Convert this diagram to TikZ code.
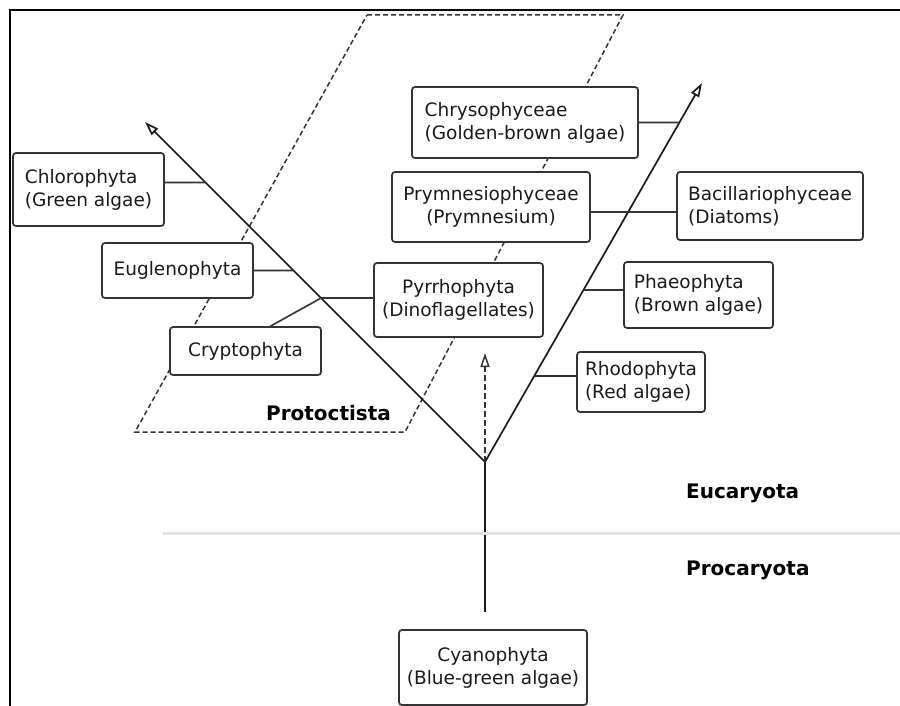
\documentclass[tikz,border=0pt]{standalone}
\usepackage{fontspec}
\setmainfont{DejaVu Sans}
\usetikzlibrary{arrows.meta,calc}
\definecolor{boxc}{HTML}{333333}
\definecolor{linec}{HTML}{1A1A1A}
\definecolor{txt}{HTML}{1A1A1A}
\definecolor{sepc}{HTML}{E2E2E2}
\newcommand{\boxfont}{\fontsize{18.5}{23}\selectfont}
\newcommand{\labfont}{\bfseries\fontsize{20}{24}\selectfont}
\begin{document}
\begin{tikzpicture}[x=1pt,y=-1pt,
  box/.style={draw=boxc, line width=1.7pt, rounded corners=3pt, fill=white, inner sep=0pt, font=\boxfont, text=txt},
  conn/.style={draw=boxc, line width=1.6pt},
  vline/.style={draw=linec, line width=1.7pt},
  tipo/.style={-{Triangle[open,length=14pt,width=9pt]}},
  dline/.style={draw=boxc, line width=1.5pt, dash pattern=on 5pt off 3pt},
  lab/.style={font=\labfont, text=black, inner sep=0pt}
]
\useasboundingbox (0,0) rectangle (900,706);
% frame
\coordinate (f1) at (10,706); \coordinate (f2) at (10,10); \coordinate (f3) at (900,10);
\draw[line width=2.8pt] (f1) -- (f2) -- (f3);
% dashed parallelogram
\coordinate (p1) at (367,15); \coordinate (p2) at (623,15);
\coordinate (p3) at (405,432); \coordinate (p4) at (135,432);
\draw[dline] (p1) -- (p2) -- (p3) -- (p4) -- cycle;
% tree skeleton
\coordinate (v) at (485,462);
\coordinate (lt) at (145,122);
\coordinate (rt) at (702,83);
\coordinate (vb) at (485,612);
\coordinate (dt) at (485,353);
\draw[vline,tipo] (v) -- (lt);
\draw[vline,tipo] (v) -- (rt);
\draw[vline] (v) -- (vb);
\draw[draw=boxc, line width=1.5pt, dash pattern=on 6pt off 3pt, tipo] (v) -- (dt);
% separator
\coordinate (s1) at (163,533); \coordinate (s2) at (900,533);
\draw[sepc, line width=3pt] (s1) -- (s2);
% boxes
\node[box, minimum width=151pt, minimum height=73pt, align=left] (chl) at (88.5,189.5) {Chlorophyta\\(Green algae)};
\node[box, minimum width=151pt, minimum height=55pt] (eug) at (177.5,270.5) {Euglenophyta};
\node[box, minimum width=151pt, minimum height=48pt] (cry) at (245.5,351) {Cryptophyta};
\node[box, minimum width=169pt, minimum height=74pt, align=center] (pyr) at (458.5,300) {Pyrrhophyta\\(Dinoflagellates)};
\node[box, minimum width=198pt, minimum height=70pt, align=center] (pry) at (491,207) {Prymnesiophyceae\\(Prymnesium)};
\node[box, minimum width=226pt, minimum height=71pt, align=left] (chr) at (525,122.5) {Chrysophyceae\\(Golden-brown algae)};
\node[box, minimum width=186pt, minimum height=68pt, align=left] (bac) at (770,206) {Bacillariophyceae\\(Diatoms)};
\node[box, minimum width=149pt, minimum height=66pt, align=left] (pha) at (698.5,295) {Phaeophyta\\(Brown algae)};
\node[box, minimum width=128pt, minimum height=60pt, align=left] (rho) at (641,382) {Rhodophyta\\(Red algae)};
\node[box, minimum width=188pt, minimum height=75pt, align=center] (cya) at (493,667.5) {Cyanophyta\\(Blue-green algae)};
% labels
\node[lab] (prot) at (328.5,413) {Protoctista};
\node[lab, anchor=west] (euc) at (686,493) {Eucaryota};
\node[lab, anchor=west] (proc) at (686,570) {Procaryota};
% connectors left
\coordinate (chlA) at ([yshift=7pt]chl.east); \coordinate (chlB) at ([yshift=7pt]chl.west);
\draw[conn] (chlA) -- (intersection of v--lt and chlA--chlB);
\draw[conn] (eug.east) -- (intersection of v--lt and eug.east--eug.west);
\coordinate (pyA) at ([yshift=2pt]pyr.west); \coordinate (pyB) at ([yshift=2pt]pyr.east);
\draw[conn] (pyA) -- (intersection of v--lt and pyA--pyB) -- ([xshift=25pt]cry.north);
% connectors right
\draw[conn] (chr.east) -- (intersection of v--rt and chr.east--chr.west);
\coordinate (prA) at ([yshift=-5pt]pry.east); \coordinate (prB) at ([yshift=-5pt]pry.east -| bac.west);
\draw[conn] (prA) -- (prB);
\coordinate (phA) at ([yshift=5pt]pha.west); \coordinate (phB) at ([yshift=5pt]pha.east);
\draw[conn] (phA) -- (intersection of v--rt and phA--phB);
\coordinate (rhA) at ([yshift=6pt]rho.west); \coordinate (rhB) at ([yshift=6pt]rho.east);
\draw[conn] (rhA) -- (intersection of v--rt and rhA--rhB);
\end{tikzpicture}
\end{document}
